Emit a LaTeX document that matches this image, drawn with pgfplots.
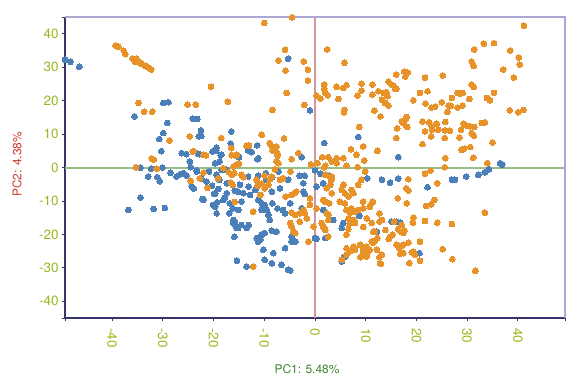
\documentclass[border=0pt]{standalone}
\usepackage{fontspec}
\setmainfont{TeX Gyre Heros}
\usepackage{pgfplots}
\pgfplotsset{compat=1.18}
\definecolor{tickc}{RGB}{150,185,30}
\definecolor{navyc}{RGB}{52,52,105}
\definecolor{lavc}{RGB}{172,168,212}
\definecolor{zgreen}{RGB}{150,190,135}
\definecolor{zpink}{RGB}{212,150,150}
\definecolor{bluec}{RGB}{74,127,186}
\definecolor{orangec}{RGB}{232,146,42}
\definecolor{xlabc}{RGB}{60,138,46}
\definecolor{ylabc}{RGB}{205,60,50}
\begin{document}
\begin{tikzpicture}
\useasboundingbox (0bp,0bp) rectangle (581bp,379bp);
\begin{axis}[
  at={(65bp,61bp)}, anchor=south west, scale only axis,
  width=500bp, height=301bp,
  xmin=-49.3, xmax=49.3, ymin=-45, ymax=45,
  clip=false,
  axis x line*=bottom, axis y line*=left,
  axis line style={-, draw=navyc, line width=1.2bp},
  xtick={-40,-30,-20,-10,0,10,20,30,40},
  ytick={-40,-30,-20,-10,0,10,20,30,40},
  extra x ticks={-49.3,49.3}, extra x tick labels={},
  extra y ticks={-45,45}, extra y tick labels={},
  tick align=outside, major tick length=3bp,
  tick style={draw=navyc, line width=0.8bp},
  /pgf/number format/assume math mode=true,
  ticklabel style={text=tickc, font=\fontsize{13.5}{13.5}\selectfont},
  xticklabel style={rotate=-90, anchor=west},
  xticklabel shift=4bp,
  xlabel={PC1: 5.48\%}, ylabel={PC2: 4.38\%},
  every axis x label/.style={at={(axis description cs:0.484,0)}, anchor=center, yshift=-51bp, text=xlabc, font=\fontsize{12}{12}\selectfont},
  every axis y label/.style={at={(axis description cs:0,0.51)}, anchor=center, xshift=-48bp, rotate=90, text=ylabc, font=\fontsize{12}{12}\selectfont},
]
\draw[zgreen, line width=2bp] (axis cs:-49.3,0) -- (axis cs:49.3,0);
\draw[zpink, line width=2bp] (axis cs:0,-45) -- (axis cs:0,45);
\draw[lavc, line width=1.5bp] (rel axis cs:0,1) -- (rel axis cs:1,1) -- (rel axis cs:1,0);
\addplot[only marks, mark=*, color=bluec, mark size=2.9bp, mark options={line width=0pt}] table {
x y
-49.3 32.2
-48.2 31.6
-46.5 30.1
-35.6 15.3
-29.9 19.3
-28.9 19.5
-29.1 13.3
-29.9 10.3
-30.7 8.5
-30.3 4.9
-34.4 -0.1
-32.3 -0.4
-30.1 0.0
-32.9 -2.7
-31.1 -2.9
-30.6 -4.1
-28.5 -1.6
-24.1 14.6
-23.2 14.5
-26.3 4.3
-25.4 4.0
-24.7 1.8
-24.5 0.1
-26.6 -2.0
-25.9 -1.7
-25.3 -2.4
-23.3 -1.2
-22.9 9.3
-36.8 -12.7
-34.4 -9.0
-31.8 -12.4
-29.6 -12.1
-23.9 -6.3
-22.5 11.1
-22.4 9.4
-16.5 10.8
-22.8 4.0
-20.2 4.8
-19.4 6.0
-19.5 5.0
-18.6 3.6
-19.7 1.3
-18.8 1.8
-23.3 -0.8
-20.9 -1.2
-19.4 -2.2
-17.4 -0.7
-18.4 -0.7
-27.3 -2.7
-22.4 -3.4
-21.4 -4.2
-20.3 -5.5
-19.1 -6.4
-19.9 -7.9
-18.9 -3.7
-17.8 -9.0
-19.3 -10.4
-19.7 -11.7
-22.2 -9.4
-17.4 -4.7
-15.8 -6.9
-15.2 -7.2
-16.9 -13.7
-16.2 -12.2
-16.1 -15.7
-16.1 -16.6
-15.6 -17.7
-15.2 -18.1
-15.9 -20.7
-15.4 -27.9
-15.1 -12.7
-5.3 32.5
-1.0 17.1
8.5 9.1
1.8 7.3
-11.4 6.6
-13.2 5.1
-12.5 4.6
-11.4 2.5
-11.2 2.8
-2.6 3.1
-15.0 3.1
-7.2 -1.2
-3.0 -2.5
-2.0 -2.5
0.0 -0.9
1.1 -1.9
2.8 -2.5
-11.2 -2.4
-9.7 -1.7
10.3 -3.2
-13.2 -2.7
-8.4 -2.9
-5.3 -3.7
-14.8 -5.2
-14.1 -7.7
-13.1 -5.7
-12.8 -8.2
-11.8 -6.7
-9.5 -3.7
-8.5 -7.2
-6.9 -6.2
-2.3 -4.7
-2.3 -7.2
-2.0 -7.9
0.3 -5.7
1.6 -4.7
-14.5 -10.2
-11.2 -9.7
-10.5 -10.7
-10.2 -11.7
-9.9 -11.2
-9.5 -12.7
-10.5 -12.7
-9.2 -14.2
-8.9 -15.7
-8.4 -10.7
-7.4 -12.2
-6.3 -12.7
-5.9 -13.7
-4.9 -10.7
-2.6 -12.2
1.6 -12.7
8.7 -14.5
-15.8 -16.2
-15.4 -18.1
-14.5 -17.2
-13.5 -18.1
-13.1 -17.2
-4.6 -20.7
-7.6 -19.2
3.6 -15.7
5.6 -16.6
5.3 -18.1
0.0 -21.1
0.3 -21.3
2.0 -21.1
-11.5 -21.1
-11.2 -22.2
-10.5 -20.1
-9.9 -19.6
-8.5 -18.9
-10.2 -24.6
-8.2 -25.6
-5.9 -24.1
-4.6 -22.2
-3.9 -22.2
5.9 -26.6
-13.5 -29.6
-9.9 -27.6
-8.5 -28.6
-6.6 -29.1
-5.3 -30.6
-4.9 -30.8
-24.3 -5.7
-22.0 -9.7
-20.1 -11.2
-19.4 -13.7
-19.7 -7.7
-17.4 -7.7
-16.8 -10.7
-18.1 -9.7
-10.8 -21.6
-23.1 4.1
-18.5 3.8
-16.6 7.1
-15.0 3.3
16.4 3.1
36.5 1.3
36.9 0.8
34.3 -0.5
33.5 -1.4
32.2 -2.2
29.8 -2.7
27.6 -3.7
27.0 -3.7
16.4 -3.3
13.2 -3.7
14.8 -4.5
22.2 -5.9
15.1 -16.2
16.1 -16.2
16.8 -16.5
12.2 -19.2
20.6 -25.6
5.3 -28.1
5.7 -26.8
};
\addplot[only marks, mark=*, color=orangec, mark size=2.9bp, mark options={line width=0pt}] table {
x y
-39.3 36.4
-38.8 36.1
-37.7 34.9
-37.4 33.9
-36.0 32.6
-35.2 32.5
-35.5 31.6
-34.8 31.6
-34.2 31.0
-33.5 30.4
-32.9 29.9
-32.3 29.3
-35.7 32.2
-34.5 31.3
-34.8 19.3
-33.7 16.7
-32.1 16.7
-28.7 8.1
-32.2 2.7
-31.8 2.4
-35.3 0.1
-31.2 -0.4
-25.1 18.8
-23.5 18.8
-24.7 9.3
-24.1 4.8
-24.5 -4.0
-20.5 24.1
-17.2 19.7
-18.5 8.8
-23.9 4.9
-21.5 3.6
-22.0 3.8
-16.5 5.8
-16.4 3.7
-15.6 3.5
-22.0 -1.5
-18.1 -0.2
-17.0 -1.4
-16.1 0.3
-15.4 0.8
-22.7 -3.2
-19.1 -3.2
-21.2 -6.1
-16.6 -4.5
-16.2 -5.2
-15.9 -1.7
-16.4 -2.2
-15.8 -10.3
-5.9 35.2
-7.2 32.0
-5.8 29.0
-2.2 31.7
-1.4 29.2
-1.4 26.0
-5.6 22.3
-8.4 17.2
-2.1 18.7
2.4 35.3
5.8 31.3
1.8 24.8
1.8 23.5
2.0 22.3
2.5 21.6
0.3 21.5
1.1 20.6
4.3 24.1
5.6 23.8
6.2 24.6
4.6 20.5
5.8 17.2
5.7 16.5
9.2 25.1
9.2 23.0
8.4 21.5
11.3 24.8
11.3 21.8
11.7 17.0
8.7 12.1
9.5 6.3
7.1 5.5
8.2 3.8
9.7 2.1
-6.1 8.7
-10.5 9.8
-13.5 6.5
-13.0 6.6
-8.9 7.3
-8.5 6.3
-7.6 6.3
-8.4 5.1
-7.4 3.5
-7.4 4.3
-4.6 2.5
-3.3 4.3
-7.6 1.8
-7.2 1.3
-0.8 1.0
0.5 1.3
1.4 3.1
2.6 3.1
2.0 0.5
3.3 1.8
4.3 2.8
5.6 2.8
4.3 1.3
6.2 0.6
8.4 0.1
-15.4 3.8
-15.0 1.1
-7.9 -0.5
-4.8 -1.2
1.8 0.1
3.3 -2.7
9.9 -1.2
-8.5 -2.7
-10.0 -2.4
-14.1 -2.9
-10.0 43.2
-4.5 44.9
14.5 25.7
-14.5 -2.2
-6.6 -3.5
3.0 -2.7
3.2 -3.7
-11.5 -3.7
-11.3 -5.5
-10.5 -4.9
-9.9 -6.2
-9.2 -5.2
-8.9 -3.5
-10.8 -8.2
-6.9 -3.7
-6.3 -3.2
-5.8 -8.7
-4.6 -8.2
-3.7 -7.2
-4.1 -7.7
-1.0 -9.2
2.0 -2.2
5.3 -6.7
5.9 -7.7
7.2 -6.7
7.6 -7.7
8.5 -5.2
9.1 -3.7
4.9 -10.2
5.9 -10.7
11.2 -10.7
9.5 -10.2
2.0 -10.2
2.8 -10.7
-12.2 -13.2
-4.6 -13.5
-3.9 -14.2
-3.0 -13.7
-2.3 -12.7
-2.0 -13.7
-1.6 -15.2
-3.0 -16.2
-1.0 -11.2
0.3 -12.2
1.6 -9.7
2.3 -13.7
2.6 -14.2
6.2 -12.7
6.9 -13.5
7.2 -12.2
7.9 -13.2
8.5 -12.7
9.5 -12.2
-4.3 -19.2
-3.9 -19.6
-4.9 -16.6
-4.6 -17.7
-0.3 -17.7
1.3 -16.6
1.6 -17.7
2.0 -18.7
2.6 -15.7
6.6 -15.2
6.9 -16.6
6.6 -18.4
7.6 -15.7
7.9 -16.6
9.5 -17.8
11.2 -16.6
10.2 -15.2
6.2 -20.1
-1.3 -22.2
2.6 -20.7
11.2 -22.2
6.2 -24.1
7.6 -23.7
8.9 -23.1
9.5 -24.1
10.2 -23.7
10.8 -24.6
8.9 -26.8
9.5 -26.4
5.3 -27.6
-12.2 -29.6
31.4 35.3
33.3 37.0
35.3 37.2
38.5 35.0
40.2 32.9
40.4 30.8
37.1 29.3
39.2 26.9
30.9 31.7
31.3 30.4
30.9 24.8
31.3 24.1
35.3 22.3
33.9 20.8
34.5 20.1
30.4 20.5
38.4 17.1
40.1 16.5
41.1 17.2
33.5 13.5
32.9 13.3
35.0 7.5
29.1 22.3
28.1 22.3
28.6 22.1
27.0 20.8
25.2 27.5
26.3 18.5
26.8 18.5
29.1 18.5
28.1 17.9
26.1 16.6
25.0 19.5
21.7 26.8
22.2 22.8
20.7 22.3
21.8 19.1
23.0 17.9
23.7 18.2
19.4 20.1
17.6 28.7
18.3 28.4
17.8 27.2
16.0 27.8
15.1 24.8
15.8 23.6
12.5 22.8
13.5 22.3
14.1 22.5
13.2 20.3
13.8 19.3
14.5 18.5
12.9 15.3
16.2 11.7
16.0 8.8
12.3 5.0
17.1 13.8
17.8 14.3
18.1 15.1
17.4 13.3
18.0 12.3
18.2 12.1
21.2 13.8
22.5 13.5
23.0 12.3
24.0 13.1
21.7 10.8
22.9 9.3
23.1 11.3
24.3 11.3
25.7 13.6
25.6 11.1
26.6 11.0
25.6 8.8
21.2 7.0
28.5 9.0
28.8 11.3
29.3 13.1
29.9 12.5
30.6 12.3
31.4 12.1
30.9 10.3
31.3 9.5
28.9 5.3
29.4 5.6
30.6 6.1
31.2 2.9
25.7 2.8
25.6 0.1
34.0 1.3
18.4 -3.5
21.7 -1.9
22.8 -0.9
41.2 42.4
15.5 24.5
16.0 23.5
14.3 21.3
24.1 -4.7
18.0 -6.2
18.4 -6.9
16.3 -9.2
18.1 -10.7
21.9 -11.5
22.9 -11.0
23.5 -9.7
33.5 -13.5
12.7 -13.7
13.2 -15.7
12.7 -16.2
15.6 -16.2
17.1 -17.2
19.3 -16.5
19.4 -15.0
21.7 -16.0
24.1 -16.5
27.0 -16.9
11.8 -19.2
11.5 -19.2
13.9 -18.7
16.4 -18.4
16.9 -19.2
17.4 -19.6
17.6 -18.9
14.8 -20.7
15.3 -20.1
14.5 -21.4
12.3 -21.1
11.8 -21.9
11.5 -22.5
16.1 -23.1
16.6 -24.1
17.1 -23.4
17.4 -23.1
18.4 -22.5
20.7 -22.2
19.4 -25.1
19.7 -26.1
19.1 -25.4
17.4 -25.6
16.8 -25.8
13.2 -26.1
12.7 -26.8
12.2 -24.6
13.0 -28.8
18.6 -28.6
20.7 -27.9
27.1 -27.4
25.2 -24.4
31.6 -30.9
10.8 -11.7
11.4 -10.2
6.2 -26.1
6.9 -25.1
7.9 -24.6
9.5 -25.1
10.2 -26.6
10.5 -25.1
12.8 -28.6
2.3 -6.2
5.6 -5.2
6.6 -8.7
3.0 -5.2
3.3 -7.7
};
\end{axis}
\end{tikzpicture}
\end{document}
